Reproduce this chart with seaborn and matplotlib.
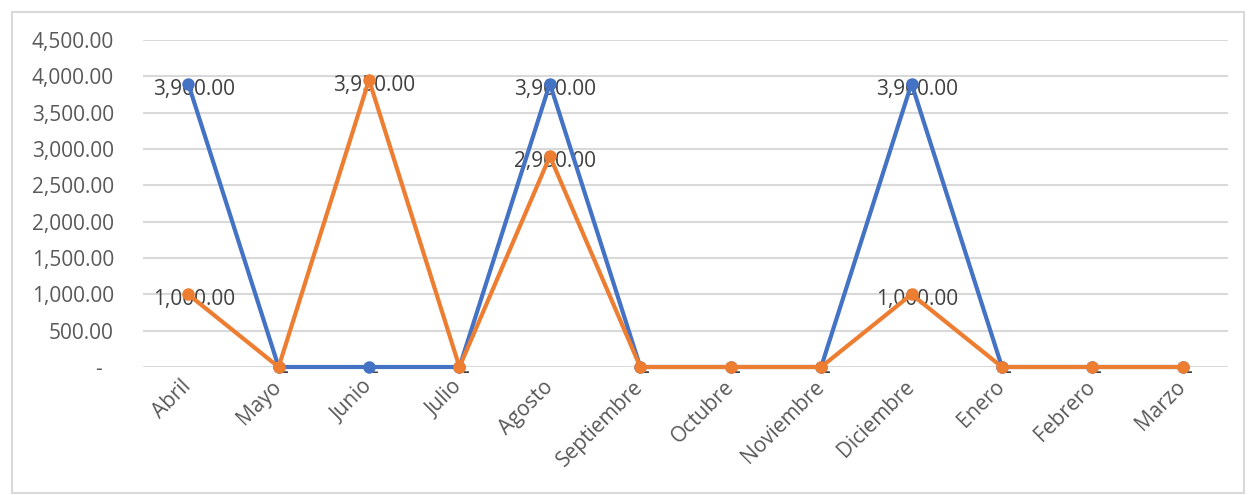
import pandas as pd
import seaborn as sns
import matplotlib.pyplot as plt
from matplotlib.patches import Rectangle
from matplotlib.ticker import FuncFormatter

meses = ["Abril", "Mayo", "Junio", "Julio", "Agosto", "Septiembre",
         "Octubre", "Noviembre", "Diciembre", "Enero", "Febrero", "Marzo"]
serie_azul = [3900, 0, 0, 0, 3900, 0, 0, 0, 3900, 0, 0, 0]
serie_naranja = [1000, 0, 3950, 0, 2900, 0, 0, 0, 1000, 0, 0, 0]

AZUL = "#4472C4"
NARANJA = "#ED7D31"

sns.set_theme(style="white")
plt.rcParams["font.family"] = ["Open Sans", "DejaVu Sans"]

df = pd.DataFrame({
    "idx": list(range(len(meses))) * 2,
    "valor": serie_azul + serie_naranja,
    "serie": ["Azul"] * len(meses) + ["Naranja"] * len(meses),
})

fig = plt.figure(figsize=(12.49, 4.95), dpi=100)
fig.patches.append(Rectangle((12 / 1249, 2 / 495), 1232 / 1249, 481 / 495,
                             transform=fig.transFigure, fill=False,
                             edgecolor="#d9d9d9", linewidth=1.5))
ax = fig.add_axes([143 / 1249, 128 / 495, 1085 / 1249, 327 / 495])

sns.lineplot(data=df, x="idx", y="valor", hue="serie", sort=False,
             palette={"Azul": AZUL, "Naranja": NARANJA},
             marker="o", markersize=9, markeredgewidth=0, linewidth=3,
             legend=False, ax=ax, clip_on=False, zorder=3)

# etiquetas de datos
for vals in (serie_azul, serie_naranja):
    for i, v in enumerate(vals):
        txt = f"{v:,.2f}" if v else "-"
        ax.annotate(txt, (i, v), xytext=(4, -4), textcoords="offset points",
                    ha="center", va="center", fontsize=15, color="#404040",
                    zorder=2.5, annotation_clip=False)

ax.set_xlim(-0.5, len(meses) - 0.5)
ax.set_ylim(0, 4500)
ax.set_yticks(range(0, 4501, 500))
ax.yaxis.set_major_formatter(FuncFormatter(lambda v, p: f"{v:,.2f}" if v else "-  "))
ax.set_xticks(range(len(meses)))
ax.set_xticklabels(meses, rotation=45, ha="right", va="center",
                   rotation_mode="anchor")

ax.tick_params(axis="y", labelsize=15, labelcolor="#595959", pad=21, length=0)
ax.tick_params(axis="x", labelsize=15, labelcolor="#595959", pad=12, length=0)
ax.grid(axis="y", color="#d9d9d9", linewidth=1.5)
ax.set_axisbelow(True)
sns.despine(ax=ax, left=True, bottom=True)
ax.set_xlabel("")
ax.set_ylabel("")

fig.savefig("out.png", dpi=100)
